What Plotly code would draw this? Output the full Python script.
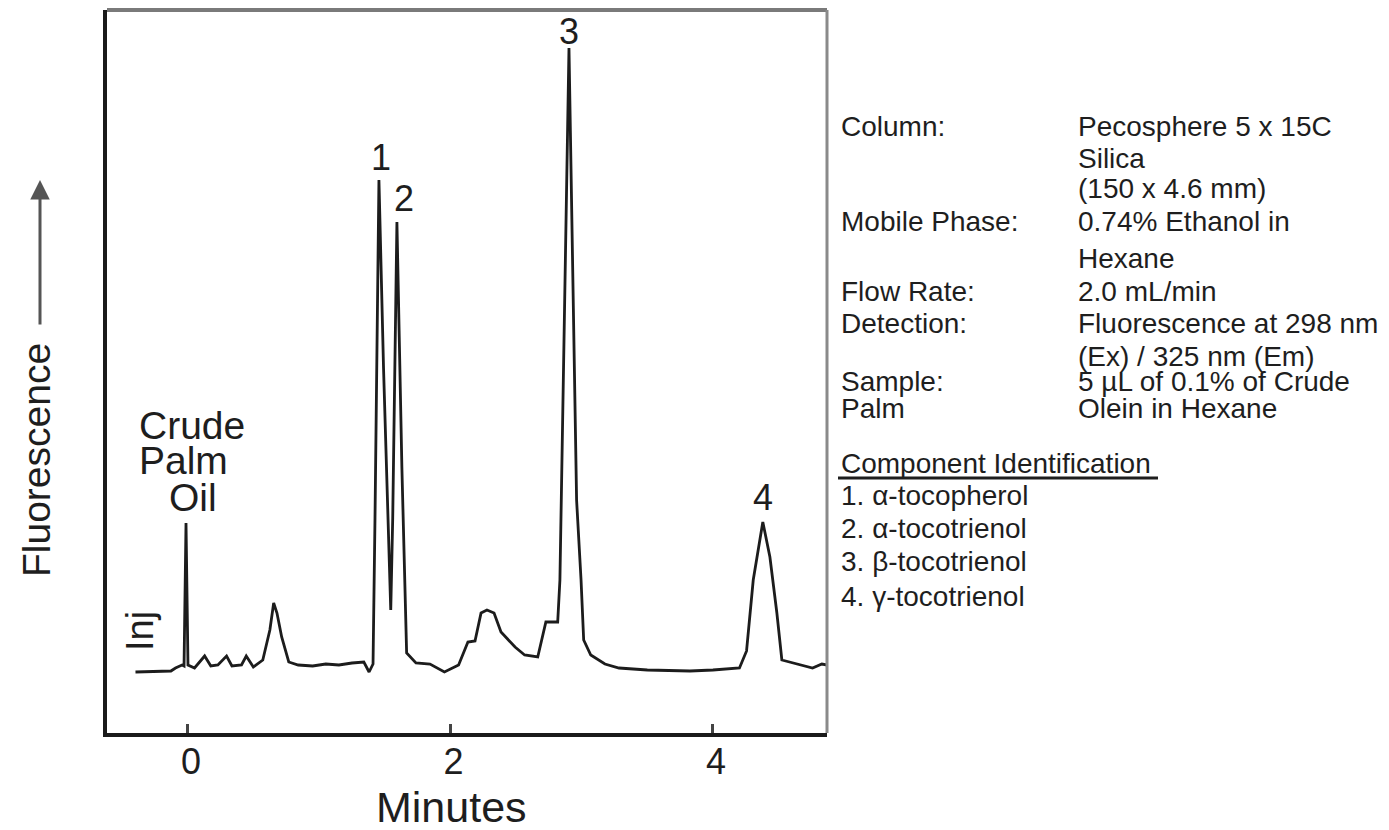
import plotly.graph_objects as go

# ---------------- data ----------------
time_min = [-0.40, -0.13, -0.095, -0.045, -0.03, -0.015, 0.0, 0.05, 0.127, 0.174, 0.228, 0.294,
            0.335, 0.408, 0.444, 0.498, 0.570, 0.624, 0.653, 0.678, 0.714, 0.768, 0.84, 0.95,
            1.05, 1.15, 1.25, 1.34, 1.38, 1.41, 1.425, 1.455, 1.49, 1.545, 1.56, 1.592, 1.63,
            1.666, 1.737, 1.844, 1.954, 2.062, 2.133, 2.187, 2.233, 2.278, 2.332, 2.385, 2.492,
            2.565, 2.665, 2.727, 2.817, 2.834, 2.903, 2.961, 2.995, 3.015, 3.069, 3.177, 3.284,
            3.5, 3.825, 4.0, 4.202, 4.256, 4.307, 4.38, 4.434, 4.487, 4.525, 4.615, 4.759,
            4.83, 4.87]
signal = [-4, -3, 0, 3, 2, 145, 3, 0, 12, 2, 3, 12,
          2, 3, 12, 1, 8, 38, 65, 55, 31, 6, 3, 2,
          4, 3, 5, 6, -4, 4, 150, 488, 300, 58, 150, 446, 200,
          15, 5, 4, -4, 3, 26, 27, 55, 58, 55, 36, 21,
          13, 11, 46, 46, 88, 620, 168, 88, 28, 13, 4, 0,
          -2, -3, -2, 0, 17, 88, 146, 111, 55, 8, 5, 0,
          4, 3]

peak_labels = ["1", "2", "3", "4"]
peak_label_x = [1.47, 1.645, 2.90, 4.38]
peak_label_y = [488, 446, 620, 146]
peak_label_shift = [0, 1, -6, 2]

x_ticks = [0, 2, 4]
x_tick_text = ["0", "2", "4"]

conditions = [
    ("Column:", ["Pecosphere 5 x 15C", "Silica", "(150 x 4.6 mm)"]),
    ("Mobile Phase:", ["0.74% Ethanol in", "Hexane"]),
    ("Flow Rate:", ["2.0 mL/min"]),
    ("Detection:", ["Fluorescence at 298 nm", "(Ex) / 325 nm (Em)"]),
    ("Sample:", ["5 µL of 0.1% of Crude"]),
    ("Palm", ["Olein in Hexane"]),
]
condition_rows_y = [[127, 158, 188], [222, 258], [292], [323, 356], [382], [408]]

component_title = "Component Identification"
components = ["1. α-tocopherol", "2. α-tocotrienol", "3. β-tocotrienol", "4. γ-tocotrienol"]
components_y = [495, 528, 561, 596]

# ---------------- layout helpers ----------------
# the page body adds an 8 px offset; work in screenshot pixels and convert
OX, OY = 8, 8
W, H = 1389 - OX, 830 - OY
FRAME_L, FRAME_R, FRAME_T, FRAME_B = 107, 827, 10, 733
L = FRAME_L - OX
T = FRAME_T - OY
R = W - (FRAME_R - OX)
B = H - (FRAME_B - OY)
PW, PH = W - L - R, H - T - B


def px(xp):
    return (xp - OX - L) / PW


def py(yp):
    return (H - B - (yp - OY)) / PH


FONT = "Liberation Sans, Arial, sans-serif"
INK = "#1e1e1e"

fig = go.Figure()
fig.add_trace(go.Scatter(x=time_min, y=signal, mode="lines",
                         line=dict(color="#1c1c1c", width=2.8),
                         hoverinfo="skip", showlegend=False))

ann = []
# peak labels
for t, xv, yv, sh in zip(peak_labels, peak_label_x, peak_label_y, peak_label_shift):
    ann.append(dict(x=xv, y=yv, xref="x", yref="y", text=t, showarrow=False,
                    yanchor="bottom", yshift=sh, font=dict(size=36, color=INK, family=FONT)))

# Crude Palm Oil
for txt, xc, yc in [("Crude", 192, 426), ("Palm", 183, 460), ("Oil", 193, 497)]:
    ann.append(dict(x=px(xc), y=py(yc), xref="paper", yref="paper", text=txt, showarrow=False,
                    xanchor="center", yanchor="middle", font=dict(size=39, color=INK, family=FONT)))

# Inj
ann.append(dict(x=px(140), y=py(631), xref="paper", yref="paper", text="Inj", showarrow=False,
                textangle=-90, xanchor="center", yanchor="middle",
                font=dict(size=38, color=INK, family=FONT)))

# y label + arrow
ann.append(dict(x=px(36), y=py(460), xref="paper", yref="paper", text="Fluorescence",
                showarrow=False, textangle=-90, xanchor="center", yanchor="middle",
                font=dict(size=39, color=INK, family=FONT)))
ann.append(dict(x=px(40), y=py(180), xref="paper", yref="paper", text="", showarrow=True,
                ax=0, ay=146, axref="pixel", ayref="pixel", arrowhead=2, arrowsize=1.3,
                arrowwidth=3, arrowcolor="#555555"))

# x title
ann.append(dict(x=px(451), y=py(807), xref="paper", yref="paper", text="Minutes", showarrow=False,
                xanchor="center", yanchor="middle", font=dict(size=43, color=INK, family=FONT)))

# conditions block
for (lab, vals), ys in zip(conditions, condition_rows_y):
    ann.append(dict(x=px(839), y=py(ys[0]), xref="paper", yref="paper", text=lab, showarrow=False,
                    xanchor="left", yanchor="middle", font=dict(size=28, color=INK, family=FONT)))
    for v, yv in zip(vals, ys):
        ann.append(dict(x=px(1076), y=py(yv), xref="paper", yref="paper", text=v, showarrow=False,
                        xanchor="left", yanchor="middle", font=dict(size=28, color=INK, family=FONT)))

ann.append(dict(x=px(839), y=py(463), xref="paper", yref="paper", text=component_title,
                showarrow=False, xanchor="left", yanchor="middle",
                font=dict(size=28, color=INK, family=FONT)))
for c, yv in zip(components, components_y):
    ann.append(dict(x=px(839), y=py(yv), xref="paper", yref="paper", text=c, showarrow=False,
                    xanchor="left", yanchor="middle", font=dict(size=28, color=INK, family=FONT)))

shapes = [
    dict(type="line", xref="paper", yref="paper", x0=0, x1=1, y0=1, y1=1,
         line=dict(color="#7a7a7a", width=4)),
    dict(type="line", xref="paper", yref="paper", x0=1, x1=1, y0=0, y1=1,
         line=dict(color="#8a8a8a", width=3)),
    dict(type="line", xref="paper", yref="paper", x0=px(838), x1=px(1158), y0=py(478), y1=py(478),
         line=dict(color="#1e1e1e", width=3)),
]

fig.update_layout(
    width=W, height=H,
    margin=dict(l=L, r=R, t=T, b=B, pad=0),
    paper_bgcolor="white", plot_bgcolor="white",
    annotations=ann, shapes=shapes,
    xaxis=dict(range=[-0.617, 4.869], tickmode="array", tickvals=x_ticks, ticktext=x_tick_text,
               ticks="inside", ticklen=9, tickwidth=3, tickcolor="#444444",
               showline=True, linecolor="#1a1a1a", linewidth=4, showgrid=False, zeroline=False,
               tickfont=dict(size=36, color=INK, family=FONT), ticklabelstandoff=-6,
               ticklabelshift=3),
    yaxis=dict(range=[-65, 658], showticklabels=False, ticks="", showline=True,
               linecolor="#1a1a1a", linewidth=4, showgrid=False, zeroline=False),
)

fig.write_html("out.html")
